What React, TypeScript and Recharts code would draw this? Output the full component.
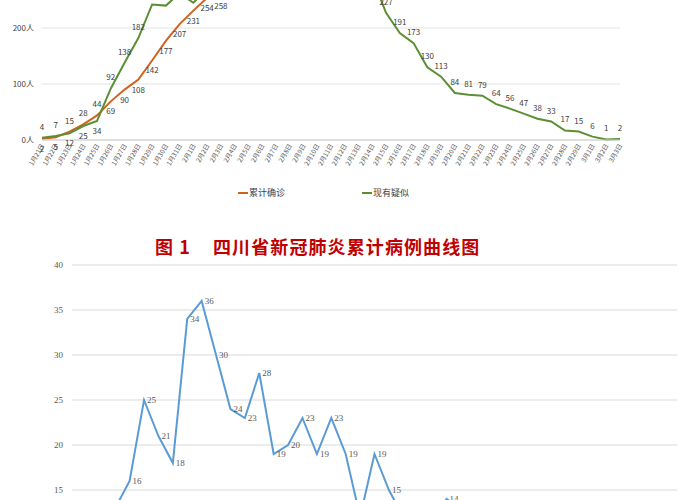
import { CartesianGrid, LabelList, Legend, Line, LineChart, XAxis, YAxis } from 'recharts';

const dates = [
  '1月21日', '1月22日', '1月23日', '1月24日', '1月25日', '1月26日', '1月27日', '1月28日', '1月29日', '1月30日', '1月31日',
  '2月1日', '2月2日', '2月3日', '2月4日', '2月5日', '2月6日', '2月7日', '2月8日', '2月9日', '2月10日',
  '2月11日', '2月12日', '2月13日', '2月14日', '2月15日', '2月16日', '2月17日', '2月18日', '2月19日', '2月20日',
  '2月21日', '2月22日', '2月23日', '2月24日', '2月25日', '2月26日', '2月27日', '2月28日', '2月29日',
  '3月1日', '3月2日', '3月3日',
];

// 累计确诊
const confirmed = [
  2, 5, 15, 28, 44, 69, 90, 108, 142, 177, 207,
  231, 254, 282, 301, 321, 344, 363, 386, 405, 417,
  436, 451, 463, 470, 481, 495, 508, 514, 520, 525,
  526, 526, 527, 529, 531, 534, 538, 538, 538,
  538, 538, 539,
];

// 现有疑似
const suspected = [
  4, 7, 12, 25, 34, 92, 138, 182, 242, 240, 262,
  245, 270, 258, 278, 295, 310, 322, 330, 325, 318,
  312, 305, 300, 290, 227, 191, 173, 130, 113, 84,
  81, 79, 64, 56, 47, 38, 33, 17, 15, 6,
  1, 2,
];

// 每日新增
const daily = [
  2, 3, 10, 13, 16, 25, 21, 18, 34, 36, 30,
  24, 23, 28, 19, 20, 23, 19, 23, 19, 12,
  19, 15, 12, 7, 11, 14, 13, 6, 6, 5,
  1, 0, 1, 2, 2, 3, 4, 0, 0, 0,
  0, 1,
];

const topTicks = [0, 100, 200, 300, 400, 500, 600];
const bottomTicks = [0, 5, 10, 15, 20, 25, 30, 35, 40];

const topData = dates.map((d, i) => ({ date: d, confirmed: confirmed[i], suspected: suspected[i] }));
const bottomData = dates.map((d, i) => ({ date: d, daily: daily[i] }));

const ORANGE = '#d0621f';
const GREEN = '#5b8f33';
const BLUE = '#5b9bd5';
const sans = '"Noto Sans CJK SC", "Liberation Sans", sans-serif';
const serif = '"Liberation Serif", "DejaVu Serif", serif';

// label goes below only when the other line runs just above this one
const topLabel = (mine: number[], other: number[]) => (props: any) => {
  const { x, y, index } = props;
  const v = mine[index];
  const below = other[index] > v && other[index] - v < 30;
  return (
    <text x={x} y={below ? y + 13 : y - 8} textAnchor="middle" fontSize={8} fill="#404040" fontFamily={sans}>
      {v}
    </text>
  );
};

// orange labels sit under the line unless green is just below it
const confirmedLabel = (props: any) => {
  const { x, y, index } = props;
  const v = confirmed[index];
  const above = v > suspected[index] && v - suspected[index] < 30;
  return (
    <text x={x} y={above ? y - 8 : y + 13} textAnchor="middle" fontSize={8} fill="#404040" fontFamily={sans}>
      {v}
    </text>
  );
};

const DateTick = (props: any) => {
  const { x, y, payload } = props;
  return (
    <text x={x} y={y} dy={3} transform={`rotate(-60 ${x} ${y})`} textAnchor="end" fontSize={6.5} fill="#595959" fontFamily={sans}>
      {payload.value}
    </text>
  );
};

const TopLegend = () => (
  <div style={{ position: 'relative', height: 14, fontFamily: sans, fontSize: 9, color: '#404040' }}>
    <span style={{ position: 'absolute', left: 238, top: 0, display: 'flex', alignItems: 'center' }}>
      <span style={{ display: 'inline-block', width: 10, height: 2, background: ORANGE, marginRight: 1 }} />
      累计确诊
    </span>
    <span style={{ position: 'absolute', left: 362, top: 0, display: 'flex', alignItems: 'center' }}>
      <span style={{ display: 'inline-block', width: 10, height: 2, background: GREEN, marginRight: 1 }} />
      现有疑似
    </span>
  </div>
);

export default function App() {
  return (
    <div style={{ position: 'absolute', top: 0, left: 0, width: 700, height: 500, overflow: 'hidden', background: '#fff' }}>
      <div style={{ position: 'absolute', top: -206, left: 0 }}>
        <LineChart width={700} height={426} data={topData} margin={{ top: 10, right: 80, left: 0, bottom: 40 }}>
          <CartesianGrid vertical={false} stroke="#e3e3e3" strokeWidth={1.2} />
          <XAxis
            dataKey="date"
            interval={0}
            height={40}
            tick={<DateTick />}
            tickLine={false}
            tickSize={0}
            tickMargin={4}
            axisLine={{ stroke: '#cfcfcf', strokeWidth: 1.2 }}
          />
          <YAxis
            width={42}
            domain={[0, 600]}
            ticks={topTicks}
            tickFormatter={(v: number) => `${v}人`}
            axisLine={false}
            tickLine={false}
            tick={{ fontSize: 8, fill: '#404040', fontFamily: sans }}
          />
          <Legend verticalAlign="middle" align="center" content={<TopLegend />} wrapperStyle={{ top: 392, left: 0, width: 700 }} />
          <Line type="linear" dataKey="confirmed" name="累计确诊" stroke={ORANGE} strokeWidth={2} dot={false} isAnimationActive={false}>
            <LabelList dataKey="confirmed" content={confirmedLabel} />
          </Line>
          <Line type="linear" dataKey="suspected" name="现有疑似" stroke={GREEN} strokeWidth={2} dot={false} isAnimationActive={false}>
            <LabelList dataKey="suspected" content={topLabel(suspected, confirmed)} />
          </Line>
        </LineChart>
      </div>

      <div
        style={{
          position: 'absolute',
          top: 233,
          left: 155,
          fontFamily: sans,
          fontWeight: 700,
          fontSize: 18,
          color: '#c00000',
          letterSpacing: 1.1,
          whiteSpace: 'nowrap',
        }}
      >
        图 1<span style={{ display: 'inline-block', width: 22 }} />四川省新冠肺炎累计病例曲线图
      </div>

      <div style={{ position: 'absolute', top: 260, left: 0 }}>
        <LineChart width={700} height={430} data={bottomData} margin={{ top: 5, right: 23, left: 0, bottom: 35 }}>
          <CartesianGrid vertical={false} stroke="#e6e6e6" strokeWidth={1.5} />
          <XAxis dataKey="date" interval={0} height={30} tick={false} tickLine={false} axisLine={{ stroke: '#d9d9d9' }} />
          <YAxis
            width={72}
            domain={[0, 40]}
            ticks={bottomTicks}
            axisLine={false}
            tickLine={false}
            tickMargin={3}
            tick={{ fontSize: 9, fill: '#595959', fontFamily: serif }}
          />
          <Line type="linear" dataKey="daily" stroke={BLUE} strokeWidth={2} dot={false} isAnimationActive={false}>
            <LabelList dataKey="daily" position="right" offset={3} fontSize={9} fill="#595959" fontFamily={serif} />
          </Line>
        </LineChart>
      </div>
    </div>
  );
}
